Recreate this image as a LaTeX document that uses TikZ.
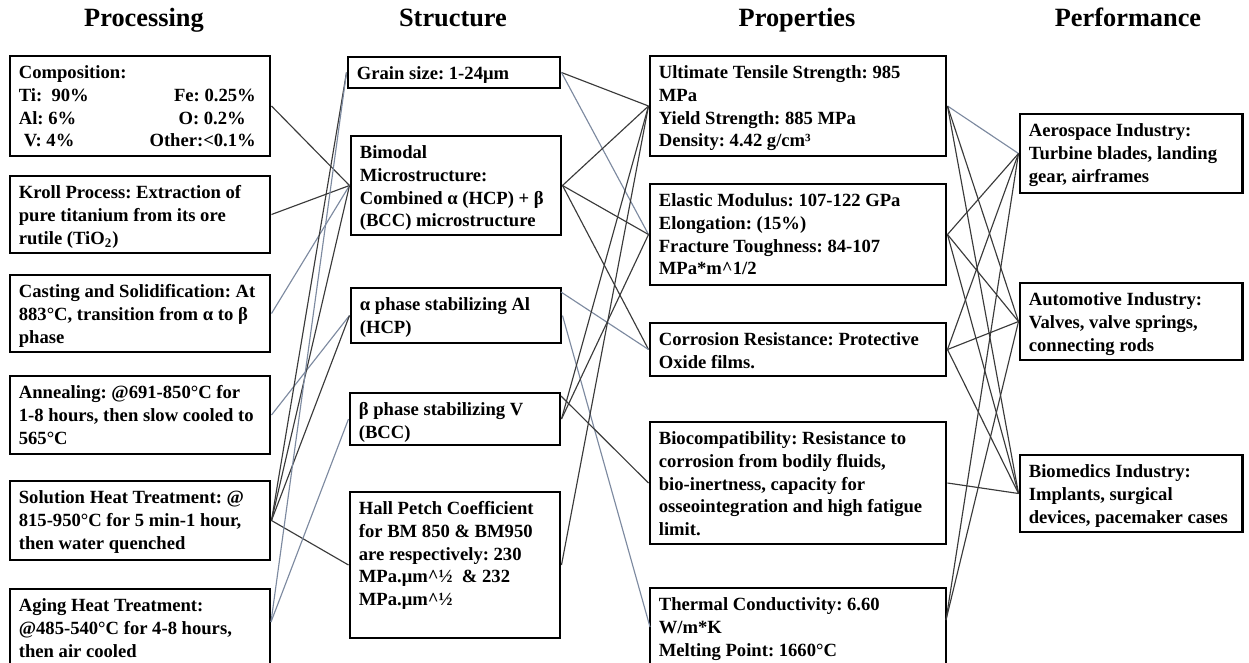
\documentclass[tikz,border=0pt]{standalone}
\usepackage{fontspec}
\setmainfont{Liberation Serif}
\usetikzlibrary{fit}
\frenchspacing

\definecolor{linkdark}{HTML}{3A3A3A}
\definecolor{linkblue}{HTML}{7D8AA0}

\tikzset{
  blk/.style={draw, line width=1.7pt, inner sep=0pt},
  txt/.style={inner sep=0pt, align=left, font=\fontsize{10.6}{12.9}\selectfont\bfseries},
  head/.style={anchor=base, font=\fontsize{15}{18}\selectfont\bfseries},
  link/.style={linkdark, line width=0.65pt},
  linkb/.style={linkblue, line width=0.65pt}
}

%% box with its text at the top left
\newcommand{\blkbox}[6]{%
  \node[blk, fit={(#2,#3) (#4,#5)}] (#1) {};
  \node[txt, anchor=north west] (#1t) at ([shift={(0.2cm,-0.22cm)}]#1.north west) {#6};}

\begin{document}
\begin{tikzpicture}[x=0.02cm, y=-0.02cm]
\useasboundingbox (0,0) rectangle (1249,663);
%% headings
\node[head] (hp) at (144,26) {Processing};
\node[head] (hs) at (453,26) {Structure};
\node[head] (hr) at (797,26) {Properties};
\node[head] (hf) at (1128,26) {Performance};
%% processing
\blkbox{p1}{10}{56}{270}{156}{Composition:\\
  \makebox[4.74cm][l]{Ti:~~90\%\hfill Fe: 0.25\%}\\
  \makebox[4.74cm][l]{Al: 6\%\hfill O: 0.2\%\hspace{0.2cm}}\\
  \makebox[4.74cm][l]{\hspace{0.1cm}V: 4\%\hfill Other:<0.1\%}}
\blkbox{p2}{10}{176}{270}{253}{Kroll Process: Extraction of\\pure titanium from its ore\\rutile (TiO\textsubscript{2})}
\blkbox{p3}{10}{275}{270}{352}{Casting and Solidification: At\\883°C, transition from α to β\\phase}
\blkbox{p4}{10}{376}{270}{454}{Annealing: @691-850°C for\\1-8 hours, then slow cooled to\\565°C}
\blkbox{p5}{10}{481}{270}{560}{Solution Heat Treatment: @\\815-950°C for 5 min-1 hour,\\then water quenched}
\blkbox{p6}{10}{589}{270}{680}{Aging Heat Treatment:\\@485-540°C for 4-8 hours,\\then air cooled}
%% structure
\blkbox{s1}{348}{57}{560}{88}{Grain size: 1-24μm}
\blkbox{s2}{351}{136}{561}{235}{Bimodal\\Microstructure:\\Combined α (HCP) + β\\(BCC) microstructure}
\blkbox{s3}{351}{288}{561}{343}{α phase stabilizing Al\\(HCP)}
\blkbox{s4}{350}{393}{560}{445}{β phase stabilizing V\\(BCC)}
\blkbox{s5}{350}{492}{560}{638}{Hall Petch Coefficient\\for BM 850 \& BM950\\are respectively: 230\\MPa.μm\textasciicircum½~~\& 232\\MPa.μm\textasciicircum½}
%% properties
\blkbox{r1}{650}{56}{946}{156}{Ultimate Tensile Strength: 985\\MPa\\Yield Strength: 885 MPa\\Density: 4.42 g/cm³}
\blkbox{r2}{650}{184}{946}{285}{Elastic Modulus: 107-122 GPa\\Elongation: (15\%)\\Fracture Toughness: 84-107\\MPa*m\textasciicircum1/2}
\blkbox{r3}{650}{323}{946}{376}{Corrosion Resistance: Protective\\Oxide films.}
\blkbox{r4}{650}{422}{946}{544}{Biocompatibility: Resistance to\\corrosion from bodily fluids,\\bio-inertness, capacity for\\osseointegration and high fatigue\\limit.}
\blkbox{r5}{650}{588}{946}{680}{Thermal Conductivity: 6.60\\W/m*K\\Melting Point: 1660°C}
%% performance
\blkbox{f1}{1020}{114}{1242}{193}{Aerospace Industry:\\Turbine blades, landing\\gear, airframes}
\blkbox{f2}{1020}{283}{1242}{360}{Automotive Industry:\\Valves, valve springs,\\connecting rods}
\blkbox{f3}{1020}{455}{1242}{532}{Biomedics Industry:\\Implants, surgical\\devices, pacemaker cases}
%% free ends
\coordinate (p6e) at (271,622);
\coordinate (r5w) at (650,627);
\coordinate (r5e) at (946,620);
\coordinate (s3c) at (561,292);
\coordinate (s4c) at (561,396);
%% processing -> structure
\draw[link] (p1.east) -- (s2.west);
\draw[link] (p2.east) -- (s2.west);
\draw[linkb] (p3.east) -- (s2.west);
\draw[linkb] (p4.east) -- (s3.west);
\draw[link] (p5.east) -- (s1.west);
\draw[link] (p5.east) -- (s2.west);
\draw[link] (p5.east) -- (s3.west);
\draw[link] (p5.east) -- (s5.west);
\draw[linkb] (p6e) -- (s1.west);
\draw[linkb] (p6e) -- (s4.west);
%% structure -> properties
\draw[link] (s1.east) -- (r1.west);
\draw[linkb] (s1.east) -- (r2.west);
\draw[link] (s2.east) -- (r1.west);
\draw[link] (s2.east) -- (r2.west);
\draw[link] (s2.east) -- (r3.west);
\draw[linkb] (s3c) -- (r3.west);
\draw[linkb] (s3.east) -- (r5w);
\draw[link] (s4.east) -- (r1.west);
\draw[link] (s4.east) -- (r2.west);
\draw[link] (s4c) -- (r4.west);
\draw[link] (s5.east) -- (r1.west);
%% properties -> performance
\draw[linkb] (r1.east) -- (f1.west);
\draw[link] (r1.east) -- (f2.west);
\draw[link] (r1.east) -- (f3.west);
\draw[link] (r2.east) -- (f1.west);
\draw[link] (r2.east) -- (f2.west);
\draw[link] (r2.east) -- (f3.west);
\draw[link] (r3.east) -- (f1.west);
\draw[link] (r3.east) -- (f2.west);
\draw[link] (r3.east) -- (f3.west);
\draw[link] (r4.east) -- (f3.west);
\draw[link] (r5e) -- (f1.west);
\draw[link] (r5e) -- (f2.west);
\end{tikzpicture}
\end{document}
